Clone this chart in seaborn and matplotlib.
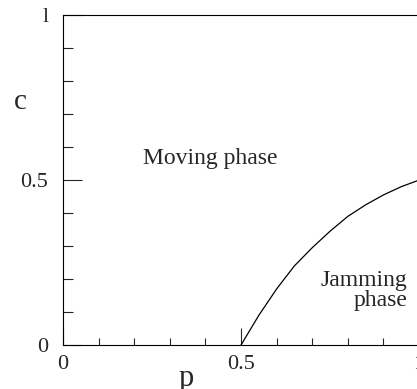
import matplotlib
matplotlib.use("Agg")
import matplotlib.pyplot as plt
import numpy as np
import pandas as pd
import seaborn as sns

# phase boundary
p_vals = [0.5, 0.55, 0.6, 0.65, 0.7, 0.75, 0.8, 0.85, 0.9, 0.95, 1.0]
c_vals = [0.0, 0.09, 0.17, 0.24, 0.295, 0.345, 0.39, 0.425, 0.455, 0.48, 0.5]

x_major = [0, 0.5, 1]
x_major_labels = ["0", "0.5", "1"]
y_major = [0, 0.5, 1]
y_major_labels = ["0", "0.5", "l"]
minor = [0.1, 0.2, 0.3, 0.4, 0.6, 0.7, 0.8, 0.9]

sns.set_style("ticks")
plt.rcParams["font.family"] = ["Liberation Serif", "DejaVu Serif"]

df = pd.DataFrame({"p": p_vals, "c": c_vals})

fig = plt.figure(figsize=(4.17, 3.89), dpi=100)
ax = fig.add_axes([0.151, 0.1131, 0.854, 0.848])

sns.lineplot(data=df, x="p", y="c", ax=ax, color="black", lw=0.9)

ax.set_xlim(0, 1)
ax.set_ylim(0, 1)
for s in ax.spines.values():
    s.set_color("black")
    s.set_linewidth(0.8)

ax.set_xticks(x_major, x_major_labels)
ax.set_yticks(y_major, y_major_labels)
ax.set_xticks(minor, minor=True)
ax.set_yticks(minor, minor=True)
ax.tick_params(axis="x", which="major", direction="in", length=12, width=0.8,
               labelsize=16, pad=7, top=False)
ax.tick_params(axis="x", which="minor", direction="in", length=5, width=0.8, top=False)
ax.tick_params(axis="y", which="major", direction="in", length=13.5, width=0.8,
               labelsize=16, pad=10.5, right=False)
ax.tick_params(axis="y", which="minor", direction="in", length=7, width=0.8, right=False)

ax.set_xlabel("p", fontsize=22)
ax.xaxis.set_label_coords(0.345, -0.124)
ax.xaxis.label.set_va("baseline")
ax.set_ylabel("c", fontsize=21, rotation=0)
ax.yaxis.set_label_coords(-0.12, 0.737)
ax.yaxis.label.set_va("center")

ax.text(0.225, 0.565, "Moving phase", fontsize=17, ha="left", va="center")
ax.text(0.968, 0.165, "Jamming\nphase", fontsize=17, ha="right", va="center",
        multialignment="right", linespacing=0.95)

fig.savefig("out.png", dpi=100)
